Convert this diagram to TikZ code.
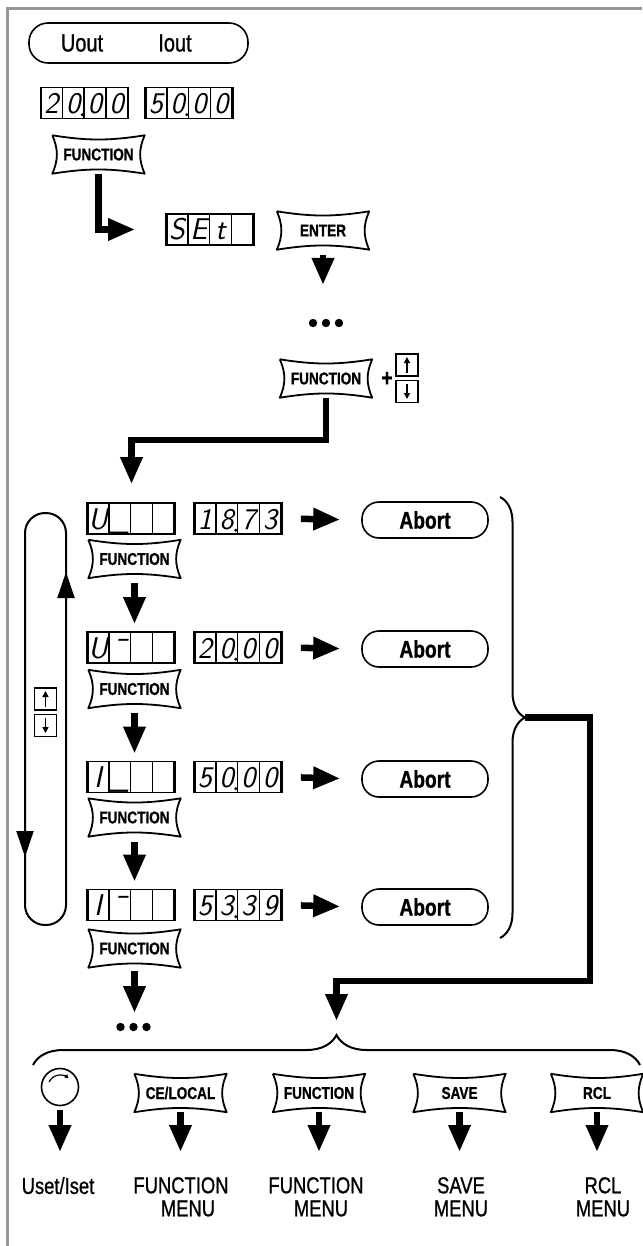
\documentclass[tikz,border=0pt]{standalone}
\usepackage{fontspec}
\setmainfont{Liberation Sans}[FakeStretch=0.8, FakeBold=0.9]
\usetikzlibrary{arrows.meta,calc,decorations.pathreplacing}
\definecolor{framegray}{RGB}{150,150,150}
\newcommand{\segfont}{\sffamily\itshape\fontsize{30}{30}\selectfont}

\tikzset{
    pushkey/.style={minimum width=92pt, minimum height=38pt, inner sep=0pt,
        font=\bfseries\fontsize{17}{17}\selectfont},
    keyline/.style={line width=1.8pt, line join=round},
    lcdframe/.style={draw, line width=1.8pt, minimum width=87pt, minimum height=31pt, inner sep=0pt},
    lcdcell/.style={draw, line width=1.4pt, minimum width=21.75pt, minimum height=31pt,
        inner sep=0pt, text height=21pt, text depth=0pt, font=\segfont},
    capsule/.style={draw, line width=1.6pt, rounded corners=17pt, minimum height=36pt, inner sep=0pt},
    abortbox/.style={capsule, minimum width=126pt, font=\bfseries\fontsize{24}{24}\selectfont},
    bigarrow/.style={line width=6.5pt, -{Triangle[length=27pt,width=21pt]}},
    loophead/.style={line width=2pt, -{Triangle[length=26pt,width=17pt]}},
    arrowkey/.style={draw, line width=1.5pt, minimum size=22pt, inner sep=0pt},
    keyarrow/.style={line width=1.6pt, -{Triangle[length=6pt,width=6pt]}},
    lbl/.style={font=\fontsize{25}{25}\selectfont},
    menulabel/.style={anchor=north, align=center, inner sep=0pt, font=\fontsize{23}{23}\selectfont}
}

% seven segment display: name, centre, characters
\newcommand{\lcd}[3]{%
    \node[lcdframe] (#1) at (#2) {};
    \foreach \ch [count=\k] in {#3}
        \node[lcdcell] (#1-\k) at ($(#1.west)+(21.75*\k-10.875,0)$) {\ch};
}
\newcommand{\lcddot}[1]{\fill ($(#1-2.south east)+(-2.5,-4.5)$) circle (1.7pt);}
% pillow outline of a front panel key
\newcommand{\keyframe}[1]{%
    \draw[keyline] (#1.north west) to[bend right=9] (#1.north east)
        to[bend right=24] (#1.south east) to[bend right=9] (#1.south west)
        to[bend right=24] (#1.north west);
}
\newcommand{\updown}[2]{%
    \node[arrowkey, anchor=south] (#1-up) at ($(#2)+(0,-1.5)$) {};
    \node[arrowkey, anchor=north] (#1-dn) at ($(#2)+(0,1.5)$) {};
    \draw[keyarrow] ($(#1-up.south)+(0,-4)$) -- ($(#1-up.north)+(0,4)$);
    \draw[keyarrow] ($(#1-dn.north)+(0,4)$) -- ($(#1-dn.south)+(0,-4)$);
}

\begin{document}
\begin{tikzpicture}[x=1pt, y=-1pt]
    \useasboundingbox (0,0) rectangle (642,1246);
    \draw[framegray, line width=3pt] (7.5,1246) -- (7.5,8.5) -- (642,8.5);

    % start
    \node[capsule, rounded corners=19pt, minimum width=219pt, minimum height=40pt] (outs) at (138.5,43) {};
    \node[lbl] (uout) at (82,43) {Uout};
    \node[lbl] (iout) at (175,43) {Iout};
    \lcd{d20}{85,103}{2,0,0,0}
    \lcddot{d20}
    \lcd{d50}{189.5,103}{5,0,0,0}
    \lcddot{d50}
    \node[pushkey] (fn1) at (98.5,154.5) {FUNCTION};
    \keyframe{fn1}
    \lcd{set}{210.5,229.5}{S,E,t,{}}
    \node[pushkey] (enter) at (323,230.5) {ENTER};
    \keyframe{enter}
    \draw[bigarrow, shorten >=31pt] (fn1.south) |- (set.west);
    \coordinate (dots1) at (326,323);
    \foreach \dx in {-13,0,13}
        \fill ($(dots1)+(\dx,0)$) circle (4.2pt);
    \draw[bigarrow, shorten <=5pt, shorten >=38pt] (enter.south) -- (enter.south |- dots1);
    \node[pushkey] (fn0) at (326,378.5) {FUNCTION};
    \keyframe{fn0}
    \node[font=\bfseries\fontsize{24}{24}\selectfont] (plus) at (387,379) {+};
    \updown{ud0}{407,378}

    % limit rows
    \lcd{u1}{131.5,518.5}{U,\_,{},{}}
    \lcd{v1}{238.5,518.5}{1,8,7,3}
    \lcddot{v1}
    \node[abortbox] (ab1) at (425,520) {Abort};
    \node[pushkey] (fk1) at (134.5,559) {FUNCTION};
    \keyframe{fk1}

    \lcd{u2}{131.5,647.5}{U,¯,{},{}}
    \lcd{v2}{238.5,647.5}{2,0,0,0}
    \lcddot{v2}
    \node[abortbox] (ab2) at (425,649) {Abort};
    \node[pushkey] (fk2) at (134.5,689) {FUNCTION};
    \keyframe{fk2}

    \lcd{u3}{131.5,777}{I,\_,{},{}}
    \lcd{v3}{238.5,777}{5,0,0,0}
    \lcddot{v3}
    \node[abortbox] (ab3) at (425,779) {Abort};
    \node[pushkey] (fk3) at (134.5,817.5) {FUNCTION};
    \keyframe{fk3}

    \lcd{u4}{131.5,905}{I,¯,{},{}}
    \lcd{v4}{238.5,905}{5,3,3,9}
    \lcddot{v4}
    \node[abortbox] (ab4) at (425,907) {Abort};
    \node[pushkey] (fk4) at (134.5,948.5) {FUNCTION};
    \keyframe{fk4}
    \coordinate (dots2) at (133.5,1027);
    \foreach \dx in {-13,0,13}
        \fill ($(dots2)+(\dx,0)$) circle (4.2pt);

    \draw[bigarrow, shorten >=18pt] (fn0.south) -- ++(0,42.5) -| (u1.north);
    \foreach \r in {1,2,3,4}
        \draw[bigarrow, shorten <=18pt, shorten >=21pt] (v\r.east) -- (ab\r.west);
    \draw[bigarrow, shorten <=5pt, shorten >=7pt] (fk1.south) -- (fk1.south |- u2.north);
    \draw[bigarrow, shorten <=5pt, shorten >=7pt] (fk2.south) -- (fk2.south |- u3.north);
    \draw[bigarrow, shorten <=5pt, shorten >=7pt] (fk3.south) -- (fk3.south |- u4.north);
    \draw[bigarrow, shorten <=3pt, shorten >=14pt] (fk4.south) -- (fk4.south |- dots2);

    % up/down loop
    \draw[line width=2pt, rounded corners=20pt] (25,513) rectangle (66,925);
    \draw[loophead] (66,600) -- (66,572);
    \draw[loophead] (25,830) -- (25,857);
    \updown{udl}{45.5,712}

    % braces
    \draw[line width=2pt, decorate, decoration={brace, amplitude=25pt}] (500,497) -- (500,938);
    \coordinate (rbtip) at (525,717.5);
    \draw[line width=2pt, decorate, decoration={brace, amplitude=30pt}] (33,1065) -- (640,1065);
    \coordinate (bbtip) at (336.5,1035);
    \coordinate (turn) at (590,981);
    \draw[bigarrow, shorten >=14pt] (rbtip) -| (turn) -| (bbtip);

    % menus
    \node[draw, circle, line width=1.6pt, minimum size=37pt, inner sep=0pt] (knob) at (60,1087) {};
    \draw[line width=1.2pt, -{Triangle[length=4pt,width=4pt]}] ($(knob.center)+(155:12pt)$)
        arc[start angle=155, end angle=45, radius=12pt];
    \node[pushkey] (kce) at (180.5,1093) {CE/LOCAL};
    \keyframe{kce}
    \node[pushkey] (kfn) at (319,1093) {FUNCTION};
    \keyframe{kfn}
    \node[pushkey] (ksave) at (459.5,1093) {SAVE};
    \keyframe{ksave}
    \node[pushkey] (krcl) at (597,1093) {RCL};
    \keyframe{krcl}

    \node[menulabel] (lknob) at (58,1177) {Uset/Iset};
    \node[menulabel] (lce) at (181,1177) {FUNCTION\\\hspace*{14pt}MENU};
    \node[menulabel] (lfn) at (316,1177) {FUNCTION\\\hspace*{10pt}MENU};
    \node[menulabel] (lsave) at (461,1177) {SAVE\\MENU};
    \node[menulabel] (lrcl) at (603,1177) {RCL\\MENU};

    \draw[bigarrow, shorten <=4pt, shorten >=25pt] (knob.south) -- (knob.south |- lknob.north);
    \foreach \k/\l in {kce/lce, kfn/lfn, ksave/lsave, krcl/lrcl}
        \draw[bigarrow, shorten >=25pt] (\k.south) -- (\k.south |- \l.north);
\end{tikzpicture}
\end{document}
